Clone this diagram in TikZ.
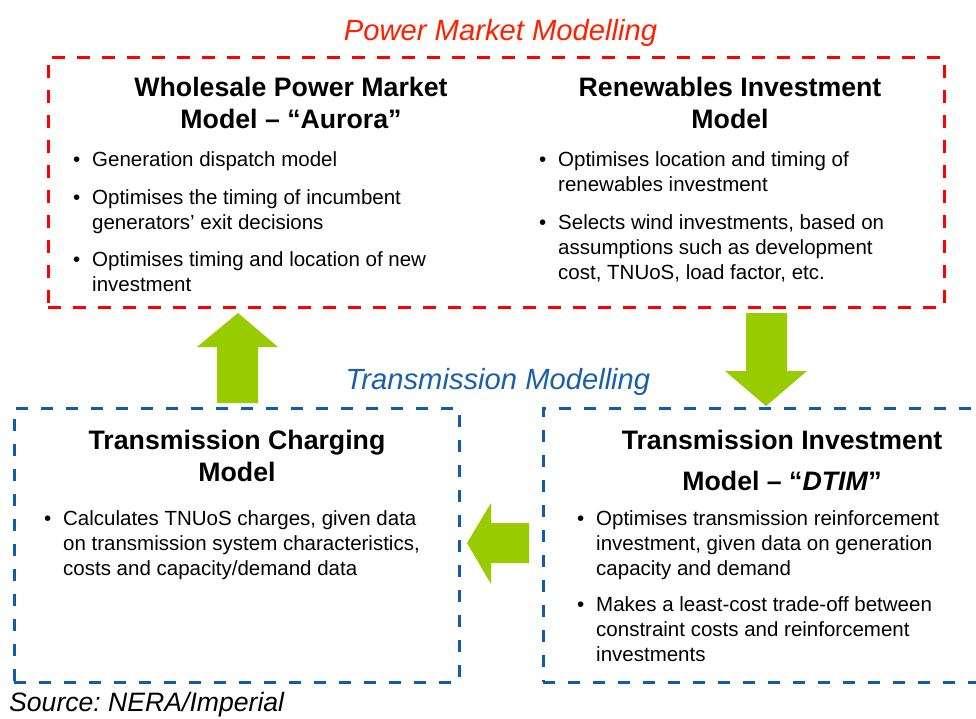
\documentclass[tikz,border=0pt]{standalone}
\usepackage{fontspec}
\setmainfont{Liberation Sans}
\frenchspacing
\definecolor{boxred}{RGB}{255,0,0}
\definecolor{headred}{RGB}{255,32,0}
\definecolor{boxblue}{RGB}{16,92,170}
\definecolor{headblue}{RGB}{26,95,174}
\definecolor{arrowgreen}{RGB}{153,204,0}
\begin{document}
\begin{tikzpicture}[x=1pt,y=-1pt,
  bulletitem/.style={anchor=north west, inner sep=0pt, align=left,
    font=\fontsize{20.5}{25}\selectfont},
  boxtitle/.style={anchor=north, inner sep=0pt, align=center,
    font=\fontsize{26.7}{32}\selectfont\bfseries},
  groupbox/.style={rectangle, inner sep=0pt, line width=3pt},
  redbox/.style={groupbox, draw=boxred, dash pattern=on 13pt off 12pt},
  bluebox/.style={groupbox, draw=boxblue, dash pattern=on 12pt off 13pt},
  heading/.style={anchor=base, inner sep=0pt,
    font=\fontsize{29.2}{35}\selectfont\itshape},
  blockarrow/.style={fill=arrowgreen}
]
\newcommand{\bul}{\strut\llap{\textbullet\hspace{12pt}}}
\useasboundingbox (0,0) rectangle (976,718);
\fill[white] (0,0) rectangle (976,718);

% group frames
\node[redbox, minimum width=896pt, minimum height=250pt] (pm) at (496,182) {};
\node[bluebox, minimum width=445pt, minimum height=274pt] (tcm) at (236.5,545) {};
\node[bluebox, minimum width=452pt, minimum height=274pt] (tim) at (769,545) {};

% group headings
\node[heading, text=headred] (pmhead) at (500.5,40) {Power Market Modelling};
\node[heading, text=headblue] (tmhead) at (498,389.5) {Transmission Modelling};

% block arrows between the models
\fill[blockarrow] (217,403) -- (217,347) -- (197,347) -- (238,313) -- (278,347)
  -- (258,347) -- (258,403) -- cycle;
\fill[blockarrow] (746,313) -- (787,313) -- (787,371) -- (807,371) -- (766,406)
  -- (725,371) -- (746,371) -- cycle;
\fill[blockarrow] (529,523) -- (529,563) -- (491,563) -- (491,584) -- (467,543)
  -- (491,503) -- (491,523) -- cycle;

% Wholesale power market model
\node[boxtitle] (aurora) at (291,74.1) {\strut Wholesale Power Market\\Model – “Aurora”};
\node[bulletitem] (a1) at (92,148.5) {\bul Generation dispatch model};
\node[bulletitem] (a2) at (92,186.5) {\bul Optimises the timing of incumbent\\generators’ exit decisions};
\node[bulletitem] (a3) at (92,249) {\bul Optimises timing and location of new\\investment};

% Renewables investment model
\node[boxtitle] (rim) at (730,74.1) {\strut Renewables Investment\\Model};
\node[bulletitem] (r1) at (558,149) {\bul Optimises location and timing of\\renewables investment};
\node[bulletitem] (r2) at (558,212) {\bul Selects wind investments, based on\\assumptions such as development\\cost, TNUoS, load factor, etc.};

% Transmission charging model
\node[boxtitle] (tcmtitle) at (237,427.1) {\strut Transmission Charging\\Model};
\node[bulletitem] (c1) at (63,507.5) {\bul Calculates TNUoS charges, given data\\on transmission system characteristics,\\costs and capacity/demand data};

% Transmission investment model
\node[boxtitle, font=\fontsize{26.7}{40.7}\selectfont\bfseries] (dtim) at (782,420.8)
  {\strut Transmission Investment\\Model – “\textit{DTIM}”};
\node[bulletitem] (d1) at (596,507.5) {\bul Optimises transmission reinforcement\\investment, given data on generation\\capacity and demand};
\node[bulletitem] (d2) at (596,593.5) {\bul Makes a least-cost trade-off between\\constraint costs and reinforcement\\investments};

% source note
\node[anchor=base west, inner sep=0pt, font=\fontsize{26.6}{32}\selectfont\itshape]
  (src) at (9,711.5) {Source: NERA/Imperial};
\end{tikzpicture}
\end{document}
